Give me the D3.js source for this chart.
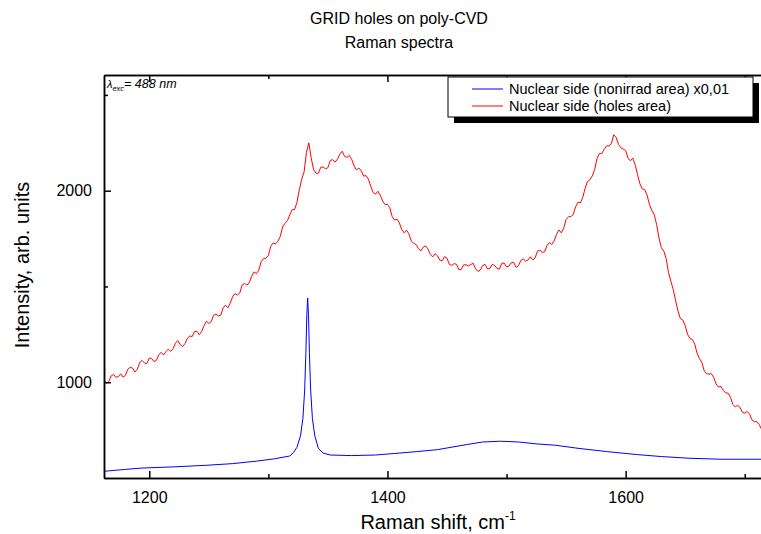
<!DOCTYPE html>
<html>
<head>
<meta charset="utf-8">
<script src="https://cdn.jsdelivr.net/npm/d3@7"></script>
<style>
    body { margin: 0; background: #fff; }
    #chart-area { width: 761px; height: 534px; }
    text { font-family: Arial, "Liberation Sans", sans-serif; fill: #000; }
    .axis path, .axis line { stroke: #000; stroke-width: 1.5px; }
    .axis text { font-size: 16px; }
</style>
</head>
<body>
<div id="chart-area"></div>
<script>

// holes area spectrum (red), every 2 cm-1
const redShift = [1162,1164,1166,1168,1170,1172,1174,1176,1178,1180,1182,1184,1186,1188,1190,1192,1194,1196,1198,1200,
    1202,1204,1206,1208,1210,1212,1214,1216,1218,1220,1222,1224,1226,1228,1230,1232,1234,1236,1238,1240,
    1242,1244,1246,1248,1250,1252,1254,1256,1258,1260,1262,1264,1266,1268,1270,1272,1274,1276,1278,1280,
    1282,1284,1286,1288,1290,1292,1294,1296,1298,1300,1302,1304,1306,1308,1310,1312,1314,1316,1318,1320,
    1322,1324,1326,1328,1330,1332,1334,1336,1338,1340,1342,1344,1346,1348,1350,1352,1354,1356,1358,1360,
    1362,1364,1366,1368,1370,1372,1374,1376,1378,1380,1382,1384,1386,1388,1390,1392,1394,1396,1398,1400,
    1402,1404,1406,1408,1410,1412,1414,1416,1418,1420,1422,1424,1426,1428,1430,1432,1434,1436,1438,1440,
    1442,1444,1446,1448,1450,1452,1454,1456,1458,1460,1462,1464,1466,1468,1470,1472,1474,1476,1478,1480,
    1482,1484,1486,1488,1490,1492,1494,1496,1498,1500,1502,1504,1506,1508,1510,1512,1514,1516,1518,1520,
    1522,1524,1526,1528,1530,1532,1534,1536,1538,1540,1542,1544,1546,1548,1550,1552,1554,1556,1558,1560,
    1562,1564,1566,1568,1570,1572,1574,1576,1578,1580,1582,1584,1586,1588,1590,1592,1594,1596,1598,1600,
    1602,1604,1606,1608,1610,1612,1614,1616,1618,1620,1622,1624,1626,1628,1630,1632,1634,1636,1638,1640,
    1642,1644,1646,1648,1650,1652,1654,1656,1658,1660,1662,1664,1666,1668,1670,1672,1674,1676,1678,1680,
    1682,1684,1686,1688,1690,1692,1694,1696,1698,1700,1702,1704,1706,1708,1710,1712,1714];
const redIntensity = [1013,994,1003,1033,1040,1026,1029,1044,1027,1036,1068,1078,1074,1053,1068,1104,1114,1100,1097,1126,
    1124,1108,1114,1144,1156,1142,1160,1173,1161,1175,1204,1217,1196,1186,1202,1228,1242,1238,1264,1266,
    1248,1265,1295,1319,1307,1316,1349,1356,1346,1350,1387,1402,1389,1413,1446,1463,1455,1466,1507,1516,
    1507,1520,1553,1576,1567,1586,1630,1646,1648,1661,1709,1727,1722,1736,1761,1811,1830,1843,1874,1901,
    1902,1938,2005,2060,2098,2200,2250,2170,2110,2091,2091,2122,2124,2114,2120,2158,2162,2149,2164,2191,
    2206,2179,2174,2184,2163,2129,2108,2118,2104,2076,2079,2060,2023,1990,1982,1997,1976,1946,1927,1929,
    1911,1864,1846,1852,1832,1797,1780,1794,1775,1738,1725,1719,1698,1685,1705,1712,1696,1667,1654,1671,
    1660,1637,1634,1656,1647,1616,1610,1619,1616,1587,1589,1613,1613,1607,1615,1621,1592,1578,1586,1610,
    1615,1591,1594,1615,1610,1594,1590,1621,1622,1602,1606,1624,1626,1600,1608,1636,1644,1632,1638,1655,
    1639,1649,1685,1689,1678,1681,1714,1729,1719,1738,1773,1795,1780,1804,1850,1864,1865,1875,1916,1940,
    1936,1965,2013,2048,2057,2077,2111,2168,2195,2194,2216,2234,2233,2245,2292,2278,2242,2224,2217,2210,
    2170,2156,2170,2135,2084,2036,2009,2006,1977,1928,1896,1875,1824,1753,1702,1686,1646,1573,1526,1483,
    1425,1371,1332,1325,1296,1250,1228,1223,1199,1151,1123,1104,1059,1044,1043,1044,1024,991,975,978,
    957,944,943,922,884,872,879,869,844,838,847,835,804,794,795,781,756];

// nonirrad area spectrum x0,01 (blue)
const blueShift = [1162,1180,1194,1220,1247,1270,1290,1305,1318,1321,1324,1327,1329,1330.5,1331.5,1332.3,1333,1333.7,
    1334.5,1335.5,1337,1339,1342,1346,1352,1370,1390,1406,1425,1442,1467,1480,1495,1510,1525,1541,1560,1584,
    1610,1630,1654,1680,1714];
const blueIntensity = [535,545,552,558,566,575,588,600,615,632,660,720,810,960,1150,1350,1440,1350,
    1150,960,810,720,655,630,620,617,620,628,638,648,675,688,692,688,678,671,655,638,
    622,612,603,598,598];

const xDomain = [1162, 1714.5];
const yDomain = [500, 2604];
const xMajorTicks = [1200, 1400, 1600];
const xMinorTicks = [1300, 1500, 1700];
const yMajorTicks = [1000, 2000];
const yMinorTicks = [1500, 2500];

const seriesNames = ["Nuclear side (nonirrad area) x0,01", "Nuclear side (holes area)"];
const seriesColors = ["#0000ff", "#ff0000"];


class RamanChart {
    constructor(_parentElement) {
        this.parentElement = _parentElement;
        this.initVis();
    }

    initVis() {
        let vis = this;

        vis.margin = {top: 75, right: -1, bottom: 56, left: 104};
        vis.width = 761 - vis.margin.left - vis.margin.right;
        vis.height = 534 - vis.margin.top - vis.margin.bottom;

        vis.root = d3.select("#" + vis.parentElement).append("svg")
            .attr("width", 761)
            .attr("height", 534);

        vis.svg = vis.root.append("g")
            .attr("transform", "translate(" + vis.margin.left + "," + vis.margin.top + ")");

        vis.x = d3.scaleLinear().domain(xDomain).range([0, vis.width]);
        vis.y = d3.scaleLinear().domain(yDomain).range([vis.height, 0]);

        vis.svg.append("clipPath").attr("id", "plot-clip")
            .append("rect")
            .attr("width", vis.width)
            .attr("height", vis.height);

        vis.wrangleData();
    }

    wrangleData() {
        let vis = this;

        vis.displayData = [
            blueShift.map((d, i) => ({shift: d, value: blueIntensity[i]})),
            redShift.map((d, i) => ({shift: d, value: redIntensity[i]}))
        ];

        vis.updateVis();
    }

    updateVis() {
        let vis = this;

        let line = d3.line()
            .x(d => vis.x(d.shift))
            .y(d => vis.y(d.value));

        vis.svg.selectAll(".spectrum")
            .data(vis.displayData)
            .enter()
            .append("path")
            .attr("class", "spectrum")
            .attr("clip-path", "url(#plot-clip)")
            .attr("d", line)
            .style("fill", "none")
            .style("stroke", (d, i) => seriesColors[i])
            .style("stroke-width", 1);

        // bottom axis, ticks inward
        vis.svg.append("g")
            .attr("class", "axis")
            .attr("transform", `translate(0, ${vis.height})`)
            .call(d3.axisBottom(vis.x).tickValues(xMajorTicks).tickFormat(d3.format("d"))
                .tickSize(-7).tickSizeOuter(0).tickPadding(14));
        vis.svg.append("g")
            .attr("class", "axis")
            .attr("transform", `translate(0, ${vis.height})`)
            .call(d3.axisBottom(vis.x).tickValues(xMinorTicks).tickSize(-4).tickSizeOuter(0).tickFormat(""));

        // top axis mirror
        vis.svg.append("g")
            .attr("class", "axis")
            .call(d3.axisTop(vis.x).tickValues(xMajorTicks).tickSize(-7).tickSizeOuter(0).tickFormat(""));
        vis.svg.append("g")
            .attr("class", "axis")
            .call(d3.axisTop(vis.x).tickValues(xMinorTicks).tickSize(-4).tickSizeOuter(0).tickFormat(""));

        vis.svg.append("g")
            .attr("class", "axis")
            .call(d3.axisLeft(vis.y).tickValues(yMajorTicks).tickFormat(d3.format("d"))
                .tickSize(-7).tickSizeOuter(0).tickPadding(12));
        vis.svg.append("g")
            .attr("class", "axis")
            .call(d3.axisLeft(vis.y).tickValues(yMinorTicks).tickSize(-4).tickSizeOuter(0).tickFormat(""));

        // titles
        vis.root.append("text")
            .attr("x", 399).attr("y", 24)
            .attr("text-anchor", "middle")
            .style("font-size", "16px")
            .text("GRID holes on poly-CVD");
        vis.root.append("text")
            .attr("x", 399).attr("y", 48)
            .attr("text-anchor", "middle")
            .style("font-size", "16px")
            .text("Raman spectra");

        let xLabel = vis.root.append("text")
            .attr("x", 438).attr("y", 529)
            .attr("text-anchor", "middle")
            .style("font-size", "20px")
            .text("Raman shift, cm");
        xLabel.append("tspan")
            .attr("dy", -9)
            .style("font-size", "12px")
            .text("-1");

        vis.root.append("text")
            .attr("transform", "translate(29, 265) rotate(-90)")
            .attr("text-anchor", "middle")
            .style("font-size", "20px")
            .text("Intensity, arb. units");

        // excitation wavelength note
        let note = vis.root.append("text")
            .attr("x", 107).attr("y", 88)
            .style("font-size", "12.5px")
            .style("font-style", "italic");
        note.append("tspan").style("font-size", "11px").text("λ");
        note.append("tspan").attr("dy", 3).style("font-size", "7.5px").text("exc");
        note.append("tspan").attr("dy", -3).text("= 488 nm");

        // legend with drop shadow
        let legend = vis.root.append("g").attr("transform", "translate(448, 77)");
        legend.append("rect")
            .attr("x", 6).attr("y", 6)
            .attr("width", 305).attr("height", 40)
            .style("fill", "#000");
        legend.append("rect")
            .attr("width", 305).attr("height", 40)
            .style("fill", "#fff")
            .style("stroke", "#000")
            .style("stroke-width", 1);

        seriesNames.forEach(function(name, i) {
            legend.append("line")
                .attr("x1", 24).attr("x2", 55)
                .attr("y1", 12 + i * 17).attr("y2", 12 + i * 17)
                .style("stroke", seriesColors[i])
                .style("stroke-width", 1);
            legend.append("text")
                .attr("x", 61).attr("y", 17 + i * 17)
                .style("font-size", "14.5px")
                .text(name);
        });
    }
}

new RamanChart("chart-area");

</script>
</body>
</html>
